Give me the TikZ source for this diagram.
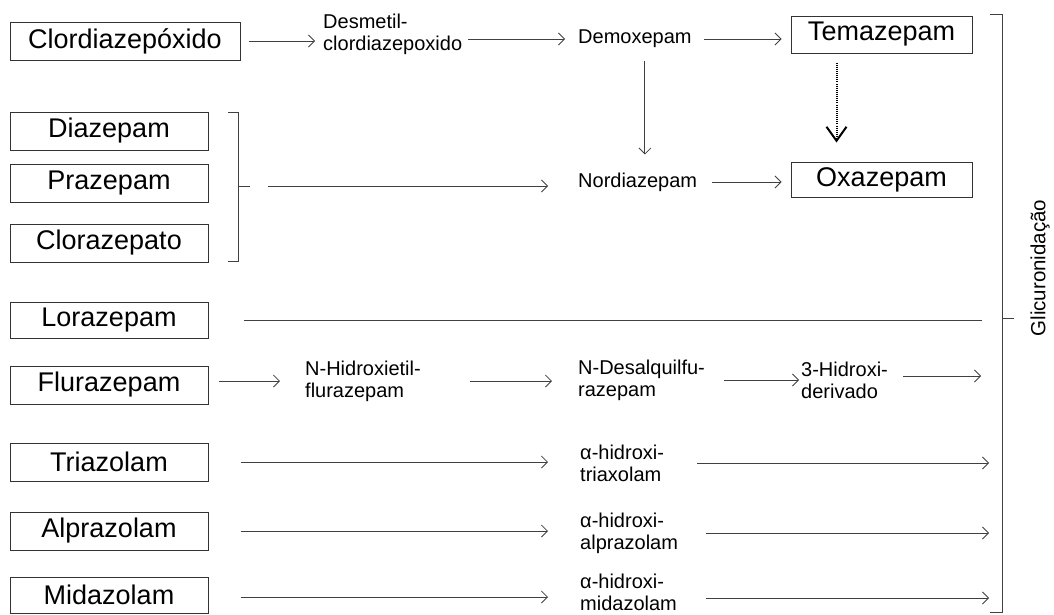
\documentclass[tikz,border=0pt]{standalone}
\usepackage{fontspec}
\setmainfont{Liberation Sans}
\usetikzlibrary{arrows.meta,calc}
\begin{document}
\begin{tikzpicture}[x=1pt,y=-1pt,
  box/.style={draw=black!80, line width=1pt, minimum height=38pt, minimum width=198pt, inner sep=0pt, font=\fontsize{27}{30}\selectfont},
  lbl/.style={inner sep=0pt, anchor=west, align=left, font=\fontsize{20}{22}\selectfont},
  arr/.style={draw=black!75, line width=0.8pt, -{Straight Barb[length=6pt,width=12pt]}},
  ln/.style={draw=black!75, line width=0.8pt},
  dotarr/.style={draw=black, line width=2pt, dash pattern=on 1pt off 1.1pt, -{Straight Barb[length=14pt,width=20pt,line width=2pt]}},
]
\useasboundingbox (0,0) rectangle (1054,614);
% nodes
\node[box, minimum width=230pt] (clo) at (125,41) {Clordiazepóxido};
\node[lbl] (des) at (323,34) {Desmetil-\\clordiazepoxido};
\node[lbl] (dem) at (578,39) {Demoxepam};
\node[box, minimum width=181pt, minimum height=37pt] (tem) at (881.5,34.5) {Temazepam};
\node[box] (dia) at (109,131) {Diazepam};
\node[box] (pra) at (109,183) {Prazepam};
\node[box] (clz) at (109,243) {Clorazepato};
\node[lbl] (nor) at (578,182) {Nordiazepam};
\node[box, minimum width=181pt, minimum height=35pt] (oxa) at (881.5,179.5) {Oxazepam};
\node[box, minimum height=36pt] (lor) at (109,320) {Lorazepam};
\node[box] (flu) at (109,385) {Flurazepam};
\node[lbl] (nhf) at (305,381) {N-Hidroxietil-\\flurazepam};
\node[lbl] (nds) at (578,380) {N-Desalquilfu-\\razepam};
\node[lbl] (hd) at (801,380) {3-Hidroxi-\\derivado};
\node[box] (tri) at (109,462) {Triazolam};
\node[lbl] (ahT) at (580,463) {α-hidroxi-\\triaxolam};
\node[box] (alp) at (109,531) {Alprazolam};
\node[lbl] (ahA) at (580,533) {α-hidroxi-\\alprazolam};
\node[box, minimum height=36pt] (mid) at (109,595) {Midazolam};
\node[lbl] (ahM) at (580,592) {α-hidroxi-\\midazolam};
% brackets
\coordinate (lt) at (238,112);
\coordinate (lb) at (238,261);
\coordinate (lm) at (238,186);
\draw[ln] ([xshift=-10pt]lt) -- (lt) -- (lb) -- ([xshift=-10pt]lb);
\draw[ln] (lm) -- ++(12,0);
\coordinate (bt) at (1002,14);
\coordinate (bb) at (1002,612);
\coordinate (bm) at (1002,318);
\draw[ln] ([xshift=-12pt]bt) -- (bt) -- (bb) -- ([xshift=-12pt]bb);
\draw[ln] (bm) -- ++(12,0);
\node[rotate=90, inner sep=0pt, font=\fontsize{20.5}{22}\selectfont] (gli) at (1040,268) {Glicuronidação};
% row 1
\draw[arr, shorten <=8pt, shorten >=8pt] (clo.east) -- (clo.east -| des.west);
\draw[arr, shorten <=6pt, shorten >=13pt] (des.east |- dem.west) -- (dem.west);
\draw[arr, shorten <=12pt, shorten >=9pt] (dem.east) -- (dem.east -| tem.west);
\draw[arr, shorten <=13pt, shorten >=18pt] ([xshift=10pt]dem.south) -- ([xshift=10pt]dem.south |- nor.north);
\draw[dotarr, shorten <=9pt, shorten >=19pt] ([xshift=-45pt]tem.south) -- ([xshift=-45pt]tem.south |- oxa.north);
% row 2
\draw[arr, shorten <=30pt, shorten >=30pt] (lm) -- (lm -| nor.west);
\draw[arr, shorten <=15pt, shorten >=9pt] (nor.east) -- (nor.east -| oxa.west);
% lorazepam
\draw[ln, shorten <=35pt, shorten >=20pt] (lor.east) -- (lor.east -| bm);
% flurazepam
\draw[arr, shorten <=10pt, shorten >=25pt] (nhf.west -| flu.east) -- (nhf.west);
\draw[arr, shorten <=49pt, shorten >=26pt] (nhf.east) -- (nhf.east -| nds.west);
\draw[arr, shorten <=19pt, shorten >=2pt] (nds.east) -- (nds.east -| hd.west);
\draw[arr, shorten <=15pt, shorten >=21pt] ([yshift=4pt]hd.east) -- ([yshift=4pt]hd.east -| bm);
% triazolam etc.
\draw[arr, shorten <=32pt, shorten >=32pt] (tri.east) -- (tri.east -| ahT.west);
\draw[arr, shorten <=33pt, shorten >=13pt] (ahT.east) -- (ahT.east -| bm);
\draw[arr, shorten <=32pt, shorten >=32pt] (alp.east) -- (alp.east -| ahA.west);
\draw[arr, shorten <=28pt, shorten >=13pt] (ahA.east) -- (ahA.east -| bm);
\draw[arr, shorten <=32pt, shorten >=32pt] ([yshift=-5pt]ahM.west -| mid.east) -- ([yshift=-5pt]ahM.west);
\draw[arr, shorten <=29pt, shorten >=13pt] ([yshift=-6pt]ahM.east) -- ([yshift=-6pt]ahM.east -| bm);
\end{tikzpicture}
\end{document}
